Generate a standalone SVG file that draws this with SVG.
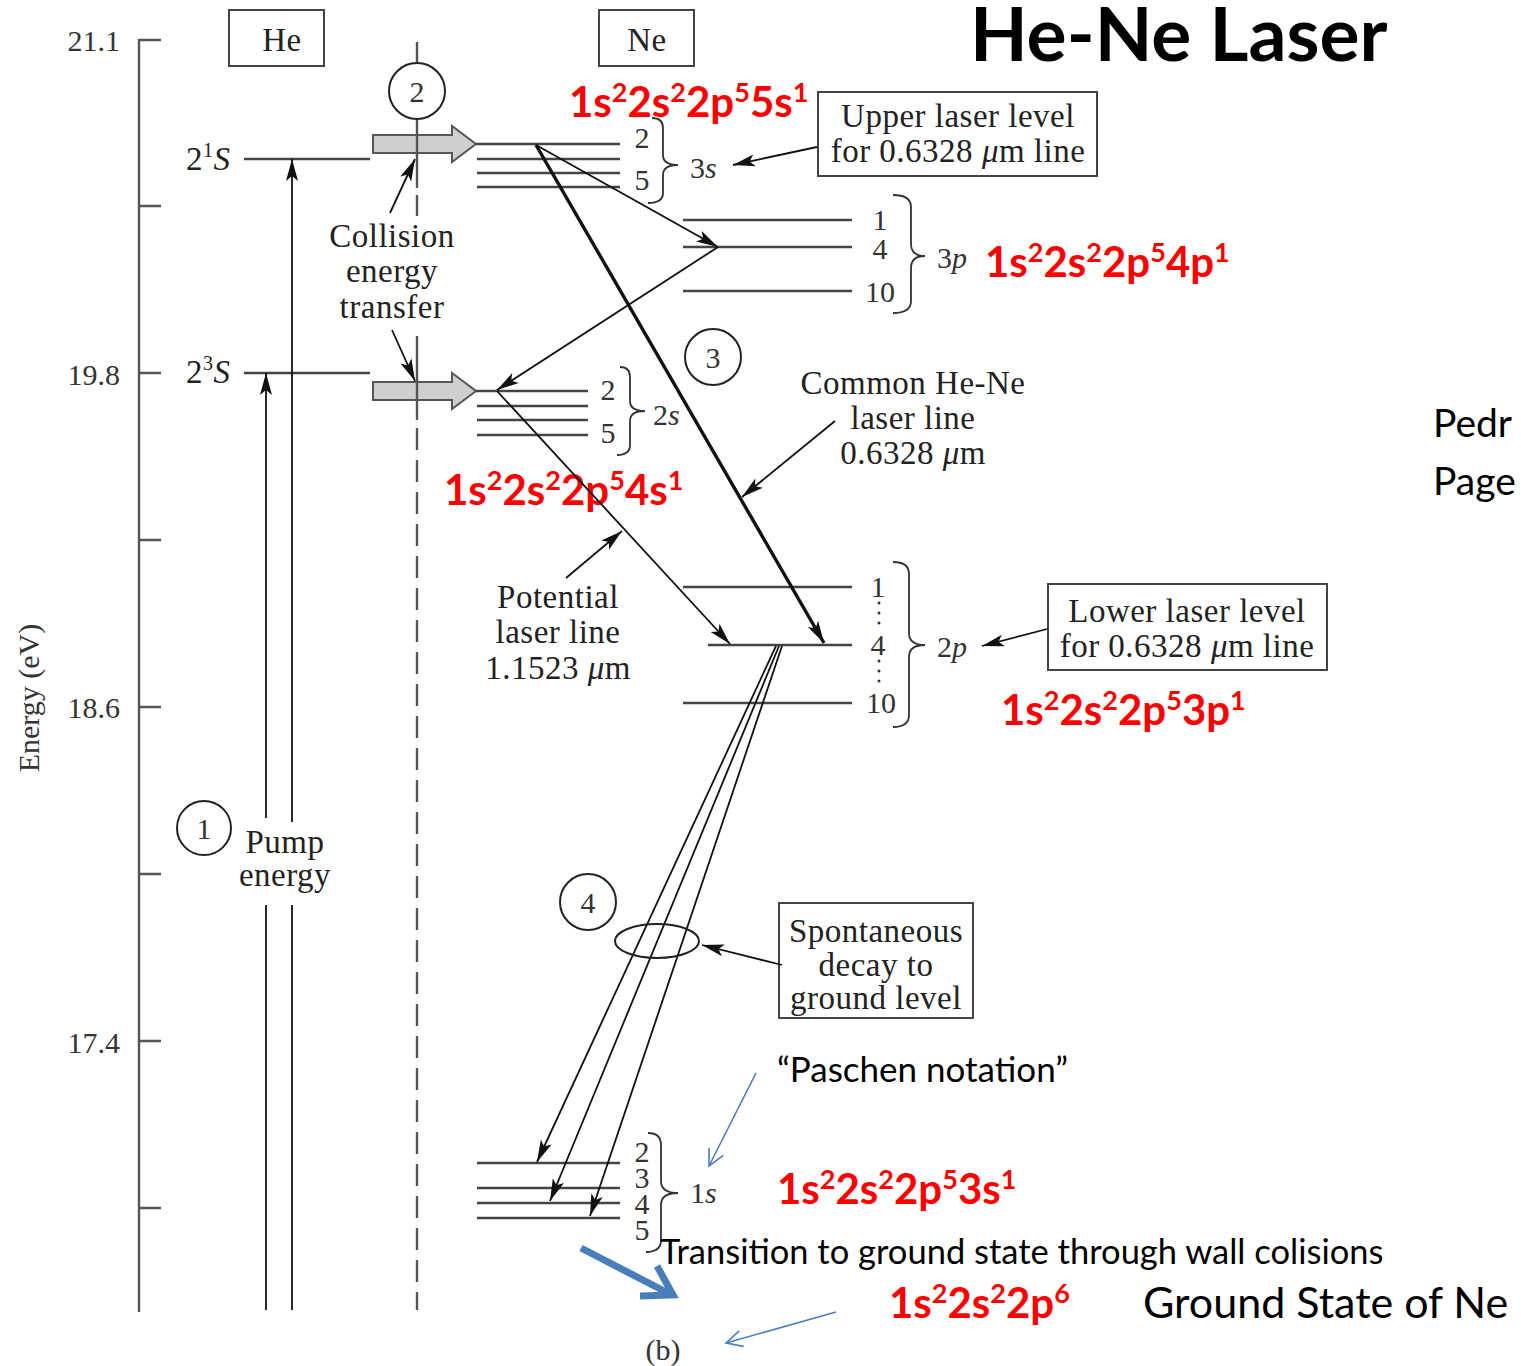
<svg xmlns="http://www.w3.org/2000/svg" width="1521" height="1366" viewBox="0 0 1521 1366">
<style>
.serif{font-family:"Liberation Serif","Times New Roman",serif;font-size:33px;letter-spacing:0.5px;fill:#222}
.num{font-family:"Liberation Serif","Times New Roman",serif;font-size:30px;fill:#333}
.ctr{text-anchor:middle}
.it{font-style:italic}
.red{font-family:Lato,"Open Sans",sans-serif;font-weight:bold;font-size:42px;fill:#ff0000}
.sup{font-size:27px}
.cal{font-family:Lato,"Open Sans",sans-serif;fill:#000}
.lvl{stroke:#444;stroke-width:2.4;fill:none}
.ax{stroke:#555;stroke-width:2.4;fill:none}
.box{fill:#fff;stroke:#444;stroke-width:2}
.circ{fill:#fff;stroke:#222;stroke-width:2}
.brace{fill:none;stroke:#333;stroke-width:1.8}
.con{stroke:#111;stroke-width:1.8;fill:none}
.thick{stroke:#111;stroke-width:3.4;fill:none}
.blue{stroke:#4a7ebb;stroke-width:1.6;fill:none}
.gray{fill:#cfcfcf;stroke:#555;stroke-width:2}
</style>
<defs>
<marker id="ah" markerUnits="userSpaceOnUse" markerWidth="24" markerHeight="14" refX="22" refY="7" orient="auto"><path d="M0,1 L22,7 L0,13 L5,7 Z" fill="#111"/></marker>
<marker id="bh" markerUnits="userSpaceOnUse" markerWidth="20" markerHeight="20" refX="17" refY="10" orient="auto"><path d="M1,2 L17,10 L1,18" fill="none" stroke="#4a7ebb" stroke-width="1.6"/></marker>
</defs>
<rect width="1521" height="1366" fill="#fff"/>

<g id="axis">
<line class="ax" x1="139" y1="39" x2="139" y2="1312"/>
<path class="ax" d="M139,40 H161 M139,206 H161 M139,373 H161 M139,540 H161 M139,707 H161 M139,874 H161 M139,1041 H161 M139,1208 H161"/>
<text class="num" x="120" y="51" text-anchor="end">21.1</text>
<text class="num" x="120" y="385" text-anchor="end">19.8</text>
<text class="num" x="120" y="718" text-anchor="end">18.6</text>
<text class="num" x="120" y="1053" text-anchor="end">17.4</text>
<text class="num" transform="translate(39,698) rotate(-90)" text-anchor="middle" font-size="34">Energy (eV)</text>
</g>

<g id="title"><text class="cal" x="970" y="61" font-size="75" font-weight="bold">He-Ne Laser</text></g>

<g id="he-box"><rect class="box" x="229" y="10" width="95" height="56"/><text class="serif ctr" x="282" y="51">He</text></g>
<g id="ne-box"><rect class="box" x="599" y="10" width="95" height="56"/><text class="serif ctr" x="647" y="51">Ne</text></g>

<g id="he-levels">
<line class="lvl" x1="244" y1="159" x2="370" y2="159"/>
<line class="lvl" x1="244" y1="373" x2="370" y2="373"/>
<text class="serif" x="186" y="170">2<tspan dy="-13" font-size="20">1</tspan><tspan dy="13" class="it">S</tspan></text>
<text class="serif" x="186" y="383">2<tspan dy="-13" font-size="20">3</tspan><tspan dy="13" class="it">S</tspan></text>
</g>

<g id="pump">
<circle class="circ" cx="204" cy="828" r="27"/>
<text class="num ctr" x="204" y="839">1</text>
<text class="serif ctr" x="285" y="853">Pump</text>
<text class="serif ctr" x="285" y="886">energy</text>
</g>

<g id="transfer-arrows">
<path class="gray" d="M373,135 L452,135 L452,126 L476,144 L452,162 L452,153 L373,153 Z"/>
<path class="gray" d="M373,382 L452,382 L452,373 L476,391 L452,409 L452,400 L373,400 Z"/>
</g>

<g id="divider">
<path class="ax" stroke-width="2" d="M417,42 V63 M417,119 V188 M417,195 V216 M417,336 V420"/>
<line class="ax" stroke-width="2" x1="417" y1="428" x2="417" y2="1310" stroke-dasharray="22 10"/>
<circle class="circ" cx="417" cy="91" r="28"/>
<text class="num ctr" x="417" y="102">2</text>
</g>

<g id="collision-label">
<text class="serif ctr" x="392" y="247">Collision</text>
<text class="serif ctr" x="392" y="282">energy</text>
<text class="serif ctr" x="392" y="318">transfer</text>
</g>

<g id="ne-3s">
<path class="lvl" d="M476,144 H620 M477,159 H620 M477,173 H620 M477,187 H620"/>
<text class="num ctr" x="642" y="148">2</text>
<text class="num ctr" x="642" y="190">5</text>
<path class="brace" d="M652,118 Q663,118 663,128 L663,155 Q663,165 678,165 Q663,165 663,175 L663,193 Q663,203 648,203"/>
<text class="num" x="690" y="178">3<tspan class="it">s</tspan></text>
</g>

<g id="upper-box">
<rect class="box" x="818" y="92" width="279" height="84"/>
<text class="serif ctr" x="958" y="127">Upper laser level</text>
<text class="serif ctr" x="958" y="162">for 0.6328 <tspan class="it">μ</tspan>m line</text>
</g>

<g id="ne-3p">
<path class="lvl" d="M683,220 H852 M683,247 H852 M683,291 H852"/>
<text class="num ctr" x="880" y="230">1</text>
<text class="num ctr" x="880" y="259">4</text>
<text class="num ctr" x="880" y="302">10</text>
<path class="brace" d="M893,195 Q911,195 911,207 L911,244 Q911,256 925,256 Q911,256 911,268 L911,301 Q911,313 893,313"/>
<text class="num" x="937" y="268">3<tspan class="it">p</tspan></text>
</g>

<g id="ne-2s">
<path class="lvl" d="M476,391 H588 M477,406 H588 M477,420 H588 M477,435 H588"/>
<text class="num ctr" x="608" y="400">2</text>
<text class="num ctr" x="608" y="443">5</text>
<path class="brace" d="M620,367 Q630,367 630,377 L630,401 Q630,411 645,411 Q630,411 630,421 L630,445 Q630,455 617,455"/>
<text class="num" x="653" y="425">2<tspan class="it">s</tspan></text>
</g>

<g id="step3">
<circle class="circ" cx="713" cy="357" r="28"/>
<text class="num ctr" x="713" y="368">3</text>
</g>

<g id="common-label">
<text class="serif ctr" x="913" y="394">Common He-Ne</text>
<text class="serif ctr" x="913" y="429">laser line</text>
<text class="serif ctr" x="913" y="464">0.6328 <tspan class="it">μ</tspan>m</text>
</g>

<g id="potential-label">
<text class="serif ctr" x="558" y="608">Potential</text>
<text class="serif ctr" x="558" y="643">laser line</text>
<text class="serif ctr" x="558" y="679">1.1523 <tspan class="it">μ</tspan>m</text>
</g>

<g id="ne-2p">
<path class="lvl" d="M683,587 H852 M708,645 H852 M683,703 H852"/>
<text class="num ctr" x="878" y="597">1</text>
<text class="num ctr" x="878" y="655">4</text>
<text class="num ctr" x="881" y="713">10</text>
<g fill="#333"><circle cx="879" cy="603" r="1.5"/><circle cx="879" cy="613" r="1.5"/><circle cx="879" cy="623" r="1.5"/><circle cx="879" cy="661" r="1.5"/><circle cx="879" cy="671" r="1.5"/><circle cx="879" cy="681" r="1.5"/></g>
<path class="brace" d="M893,562 Q909,562 909,574 L909,633 Q909,645 925,645 Q909,645 909,657 L909,715 Q909,727 893,727"/>
<text class="num" x="937" y="657">2<tspan class="it">p</tspan></text>
</g>

<g id="lower-box">
<rect class="box" x="1048" y="584" width="279" height="86"/>
<text class="serif ctr" x="1187" y="622">Lower laser level</text>
<text class="serif ctr" x="1187" y="657">for 0.6328 <tspan class="it">μ</tspan>m line</text>
</g>

<g id="step4">
<circle class="circ" cx="588" cy="902" r="28"/>
<text class="num ctr" x="588" y="913">4</text>
</g>

<g id="spont-box">
<rect class="box" x="779" y="903" width="194" height="115"/>
<text class="serif ctr" x="876" y="942">Spontaneous</text>
<text class="serif ctr" x="876" y="976">decay to</text>
<text class="serif ctr" x="876" y="1009">ground level</text>
</g>

<g id="ne-1s">
<path class="lvl" d="M477,1163 H620 M477,1188 H620 M477,1203 H620 M477,1218 H620"/>
<text class="num ctr" x="642" y="1162" font-size="24">2</text>
<text class="num ctr" x="642" y="1188" font-size="24">3</text>
<text class="num ctr" x="642" y="1214" font-size="24">4</text>
<text class="num ctr" x="642" y="1240" font-size="24">5</text>
<path class="brace" d="M648,1133 Q661,1133 661,1145 L661,1181 Q661,1193 678,1193 Q661,1193 661,1205 L661,1240 Q661,1252 646,1252"/>
<text class="num" x="690" y="1203">1<tspan class="it">s</tspan></text>
</g>

<g id="b-label"><text class="num ctr" x="663" y="1360">(b)</text></g>

<g id="red-configs">
<text class="red" x="569" y="117">1s<tspan class="sup" dy="-15">2</tspan><tspan dy="15">2s</tspan><tspan class="sup" dy="-15">2</tspan><tspan dy="15">2p</tspan><tspan class="sup" dy="-15">5</tspan><tspan dy="15">5s</tspan><tspan class="sup" dy="-15">1</tspan></text>
<text class="red" x="985" y="277">1s<tspan class="sup" dy="-15">2</tspan><tspan dy="15">2s</tspan><tspan class="sup" dy="-15">2</tspan><tspan dy="15">2p</tspan><tspan class="sup" dy="-15">5</tspan><tspan dy="15">4p</tspan><tspan class="sup" dy="-15">1</tspan></text>
<text class="red" x="444" y="505">1s<tspan class="sup" dy="-15">2</tspan><tspan dy="15">2s</tspan><tspan class="sup" dy="-15">2</tspan><tspan dy="15">2p</tspan><tspan class="sup" dy="-15">5</tspan><tspan dy="15">4s</tspan><tspan class="sup" dy="-15">1</tspan></text>
<text class="red" x="1001" y="725">1s<tspan class="sup" dy="-15">2</tspan><tspan dy="15">2s</tspan><tspan class="sup" dy="-15">2</tspan><tspan dy="15">2p</tspan><tspan class="sup" dy="-15">5</tspan><tspan dy="15">3p</tspan><tspan class="sup" dy="-15">1</tspan></text>
<text class="red" x="777" y="1204">1s<tspan class="sup" dy="-15">2</tspan><tspan dy="15">2s</tspan><tspan class="sup" dy="-15">2</tspan><tspan dy="15">2p</tspan><tspan class="sup" dy="-15">5</tspan><tspan dy="15">3s</tspan><tspan class="sup" dy="-15">1</tspan></text>
<text class="red" x="889" y="1318">1s<tspan class="sup" dy="-15">2</tspan><tspan dy="15">2s</tspan><tspan class="sup" dy="-15">2</tspan><tspan dy="15">2p</tspan><tspan class="sup" dy="-15">6</tspan></text>
</g>

<g id="notes">
<text class="cal" x="777" y="1082" font-size="35">“Paschen notation”</text>
<text class="cal" x="660" y="1264" font-size="34.5">Transition to ground state through wall colisions</text>
<text class="cal" x="1143" y="1318" font-size="43">Ground State of Ne</text>
<text class="cal" x="1433" y="437" font-size="39">Pedr</text>
<text class="cal" x="1433" y="495" font-size="39">Page</text>
</g>

<g id="connectors">
<path class="con" d="M266,1310 V905 M266,818 V373" marker-end="url(#ah)"/>
<line class="con" x1="292" y1="1310" x2="292" y2="905"/>
<line class="con" x1="292" y1="822" x2="292" y2="159" marker-end="url(#ah)"/>
<line class="con" x1="390" y1="213" x2="415" y2="159" marker-end="url(#ah)"/>
<line class="con" x1="392" y1="330" x2="415" y2="381" marker-end="url(#ah)"/>
<line class="con" x1="817" y1="147" x2="733" y2="165" marker-end="url(#ah)"/>
<line class="con" x1="536" y1="145" x2="718" y2="247" marker-end="url(#ah)"/>
<line class="con" x1="718" y1="247" x2="497" y2="390" marker-end="url(#ah)"/>
<line class="thick" x1="536" y1="145" x2="824" y2="643" marker-end="url(#ah)"/>
<line class="con" x1="497" y1="391" x2="730" y2="644" marker-end="url(#ah)"/>
<line class="con" x1="835" y1="421" x2="742" y2="497" marker-end="url(#ah)"/>
<line class="con" x1="566" y1="578" x2="622" y2="531" marker-end="url(#ah)"/>
<line class="con" x1="1047" y1="629" x2="982" y2="646" marker-end="url(#ah)"/>
<line class="con" x1="776" y1="646" x2="537" y2="1162" marker-end="url(#ah)"/>
<line class="con" x1="779" y1="646" x2="550" y2="1201" marker-end="url(#ah)"/>
<line class="con" x1="782" y1="646" x2="590" y2="1216" marker-end="url(#ah)"/>
<ellipse cx="657" cy="941" rx="42" ry="17" fill="none" stroke="#222" stroke-width="2"/>
<line class="con" x1="782" y1="965" x2="702" y2="945" marker-end="url(#ah)"/>
<line class="blue" x1="756" y1="1073" x2="709" y2="1166" marker-end="url(#bh)"/>
<line class="blue" x1="836" y1="1312" x2="726" y2="1343" marker-end="url(#bh)"/>
<path d="M581,1248 L668,1293" stroke="#4a7ebb" stroke-width="7" fill="none"/>
<path d="M657,1266 L673,1295 L640,1296" stroke="#4a7ebb" stroke-width="7" fill="none" stroke-linejoin="miter"/>
</g>
</svg>
